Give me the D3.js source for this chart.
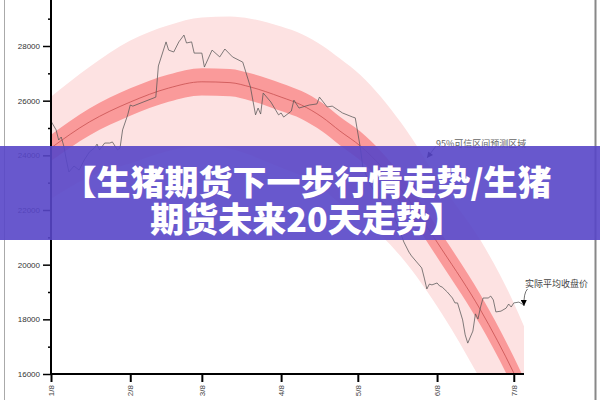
<!DOCTYPE html>
<html><head><meta charset="utf-8">
<script src="https://cdn.jsdelivr.net/npm/d3@7"></script>
<style>body{margin:0;background:#fff} svg{display:block}</style>
</head><body>
<svg id="c" width="600" height="400"></svg>
<script>
// ---------- data ----------
const actualDates = ["2021-01-08","2021-01-10","2021-01-11","2021-01-12","2021-01-13","2021-01-14","2021-01-15","2021-01-17","2021-01-19","2021-01-21","2021-01-23","2021-01-25","2021-01-26","2021-01-27","2021-01-29","2021-01-31","2021-02-01","2021-02-03","2021-02-04","2021-02-05","2021-02-07","2021-02-08","2021-02-09","2021-02-18","2021-02-19","2021-02-22","2021-02-23","2021-02-25","2021-02-27","2021-03-01","2021-03-02","2021-03-04","2021-03-05","2021-03-08","2021-03-09","2021-03-12","2021-03-15","2021-03-17","2021-03-20","2021-03-24","2021-03-27","2021-03-29","2021-03-30","2021-03-31","2021-04-01","2021-04-04","2021-04-07","2021-04-08","2021-04-09","2021-04-12","2021-04-13","2021-04-15","2021-04-19","2021-04-22","2021-04-23","2021-04-26","2021-04-28","2021-05-02","2021-05-06","2021-05-07","2021-05-09","2021-05-10","2021-05-13","2021-05-16","2021-05-19","2021-05-22","2021-05-24","2021-05-26","2021-05-28","2021-05-29","2021-05-31","2021-06-02","2021-06-03","2021-06-04","2021-06-05","2021-06-06","2021-06-08","2021-06-09","2021-06-10","2021-06-12","2021-06-14","2021-06-15","2021-06-16","2021-06-18","2021-06-19","2021-06-20","2021-06-22","2021-06-23","2021-06-24","2021-06-25","2021-06-26","2021-06-28","2021-06-29","2021-06-30","2021-07-01","2021-07-03","2021-07-05","2021-07-06","2021-07-07","2021-07-08","2021-07-10","2021-07-12"];
const actualValues = [25250,24930,24560,24670,24340,23830,23390,23610,23460,23830,24120,24270,24410,24200,24450,24450,24490,24200,24270,24930,25480,25840,25800,26130,27270,28150,27850,27780,28150,28400,28110,28150,27740,27740,27230,27850,27600,27890,27600,27410,26500,25480,25730,25510,26280,25950,25480,25550,25400,25620,26020,25730,25840,25880,26130,25770,25800,25550,25400,25370,24270,23540,22910,22440,22180,21820,21340,20830,20460,20320,20100,19880,19510,19110,19290,19260,19330,19220,19180,19000,18780,18600,18600,17980,17430,17130,17570,18200,18010,18450,18780,18780,18850,18710,18270,18300,18410,18560,18450,18600,18630,18520];

const forecastDates = ["2021-01-08","2021-01-23","2021-02-08","2021-02-23","2021-03-08","2021-03-19","2021-03-27","2021-04-08","2021-04-16","2021-04-24","2021-05-01","2021-05-09","2021-05-25","2021-06-10","2021-06-25","2021-07-08","2021-07-12"];
const forecastMid = [24270,25220,25950,26460,26690,26660,26500,26130,25840,25400,24890,24340,22730,20540,18340,16040,15250];
const darkHalf  = [480,490,500,500,500,500,500,510,510,520,520,530,540,550,560,580,590];
const lightHalf = [1870,2010,2250,2300,2350,2420,2500,2580,2600,2620,2650,2600,2450,2350,2550,2560,2500];

const yTickValues = [16000,17000,18000,19000,20000,21000,22000,23000,24000,25000,26000,27000,28000,29000];
const xTickDates = ["2021-01-08","2021-02-08","2021-03-08","2021-04-08","2021-05-08","2021-06-08","2021-07-08"];
const xTickLabels = ["1/8","2/8","3/8","4/8","5/8","6/8","7/8"];

const bandLabel = "95%可信区间预测区域";
const lineLabel = "实际平均收盘价";
const titleLines = ["【生猪期货下一步行情走势/生猪", "期货未来20天走势】"];

// ---------- scales ----------
const parse = d3.timeParse("%Y-%m-%d");
const x = d3.scaleTime().domain([parse("2021-01-08"), parse("2021-07-12")]).range([51, 524]);
const y = d3.scaleLinear().domain([16000, 28000]).range([374, 46]);

const svg = d3.select("#c");
svg.append("rect").attr("width",600).attr("height",400).attr("fill","#fff");

// frame
svg.append("line").attr("x1",4.5).attr("x2",4.5).attr("y1",0).attr("y2",400).attr("stroke","#aaa").attr("stroke-width",1);
svg.append("line").attr("x1",595.5).attr("x2",595.5).attr("y1",0).attr("y2",400).attr("stroke","#888").attr("stroke-width",2);

const defs = svg.append("defs");
defs.append("clipPath").attr("id","plotclip").append("rect")
  .attr("x",51).attr("y",0).attr("width",473).attr("height",374);
defs.append("marker").attr("id","arrow").attr("viewBox","0 0 10 10")
  .attr("refX",10).attr("refY",5).attr("markerWidth",7).attr("markerHeight",6)
  .attr("markerUnits","userSpaceOnUse").attr("orient","auto")
  .append("path").attr("d","M0,0L10,5L0,10Z").attr("fill","#000");

const fc = forecastDates.map((d,i)=>({date:parse(d), mid:forecastMid[i], dark:darkHalf[i], light:lightHalf[i]}));
const act = actualDates.map((d,i)=>({date:parse(d), v:actualValues[i]}));

const plot = svg.append("g").attr("clip-path","url(#plotclip)");
const curve = d3.curveMonotoneX;
plot.append("path").datum(fc)
  .attr("d", d3.area().x(d=>x(d.date)).y0(d=>y(d.mid-d.light)).y1(d=>y(d.mid+d.light)).curve(curve))
  .attr("fill","#fde2e2");
plot.append("path").datum(fc)
  .attr("d", d3.area().x(d=>x(d.date)).y0(d=>y(d.mid-d.dark)).y1(d=>y(d.mid+d.dark)).curve(curve))
  .attr("fill","#fa9a9a");
plot.append("path").datum(fc)
  .attr("d", d3.line().x(d=>x(d.date)).y(d=>y(d.mid)).curve(curve))
  .attr("fill","none").attr("stroke","#c85050").attr("stroke-width",0.8);
plot.append("path").datum(act)
  .attr("d", d3.line().x(d=>x(d.date)).y(d=>y(d.v)))
  .attr("fill","none").attr("stroke","#555").attr("stroke-width",0.75);

// ---------- axes ----------
const yAxis = svg.append("g").attr("transform","translate(51,0)")
  .call(d3.axisLeft(y).tickValues(yTickValues).tickSize(8).tickPadding(4)
    .tickFormat(d => d % 2000 === 0 ? d : ""));
yAxis.select(".domain").remove();
yAxis.selectAll(".tick line").attr("x2", d => d % 2000 === 0 ? -8 : -3).attr("stroke","#000").attr("stroke-width",1.5);
yAxis.selectAll(".tick text").attr("x",-11).attr("fill","#333")
  .style("font-family","'Liberation Sans', Arial, sans-serif").style("font-size","8px");
svg.append("line").attr("x1",51).attr("x2",51).attr("y1",0).attr("y2",375)
  .attr("stroke","#000").attr("stroke-width",2);

const xAxis = svg.append("g").attr("transform","translate(0,374)")
  .call(d3.axisBottom(x).tickValues(xTickDates.map(parse)).tickSize(8)
    .tickFormat((d,i)=>xTickLabels[i]));
xAxis.select(".domain").remove();
xAxis.selectAll(".tick line").attr("stroke","#000").attr("stroke-width",2);
xAxis.selectAll(".tick text")
  .attr("transform","rotate(-90)").attr("x",-11).attr("y",0).attr("dy","0.33em")
  .attr("text-anchor","end").attr("fill","#444")
  .style("font-family","'Liberation Sans', Arial, sans-serif").style("font-size","8px");
svg.append("line").attr("x1",50).attr("x2",524).attr("y1",374).attr("y2",374)
  .attr("stroke","#000").attr("stroke-width",2);

// ---------- annotations ----------
const annFont = "'Noto Sans CJK SC', sans-serif";
svg.append("text").attr("x",436).attr("y",146.5).text(bandLabel)
  .attr("fill","#666").style("font-family",annFont).style("font-size","9px");
svg.append("path").attr("d","M436,146 L427,158").attr("stroke","#333").attr("stroke-width",0.7)
  .attr("fill","none").attr("marker-end","url(#arrow)");
svg.append("text").attr("x",525).attr("y",286.5).text(lineLabel)
  .attr("fill","#444").style("font-family",annFont).style("font-size","9px");
svg.append("path").attr("d","M527.5,289 Q523.5,293 524,306").attr("stroke","#333").attr("stroke-width",0.7)
  .attr("fill","none").attr("marker-end","url(#arrow)");

// ---------- banner ----------
svg.append("rect").attr("x",0).attr("y",146).attr("width",600).attr("height",94)
  .attr("fill","rgb(88,70,200)").attr("fill-opacity",0.9);
svg.selectAll("text.title").data(titleLines).join("text").attr("class","title")
  .attr("x",307).attr("y",(d,i)=>195 + i*36.5).attr("text-anchor","middle")
  .attr("fill","#fff").style("font-family","'Noto Sans CJK SC Black', 'Noto Sans CJK SC', sans-serif")
  .style("font-weight","900").style("font-size","34px").text(d=>d);
</script>
</body></html>
